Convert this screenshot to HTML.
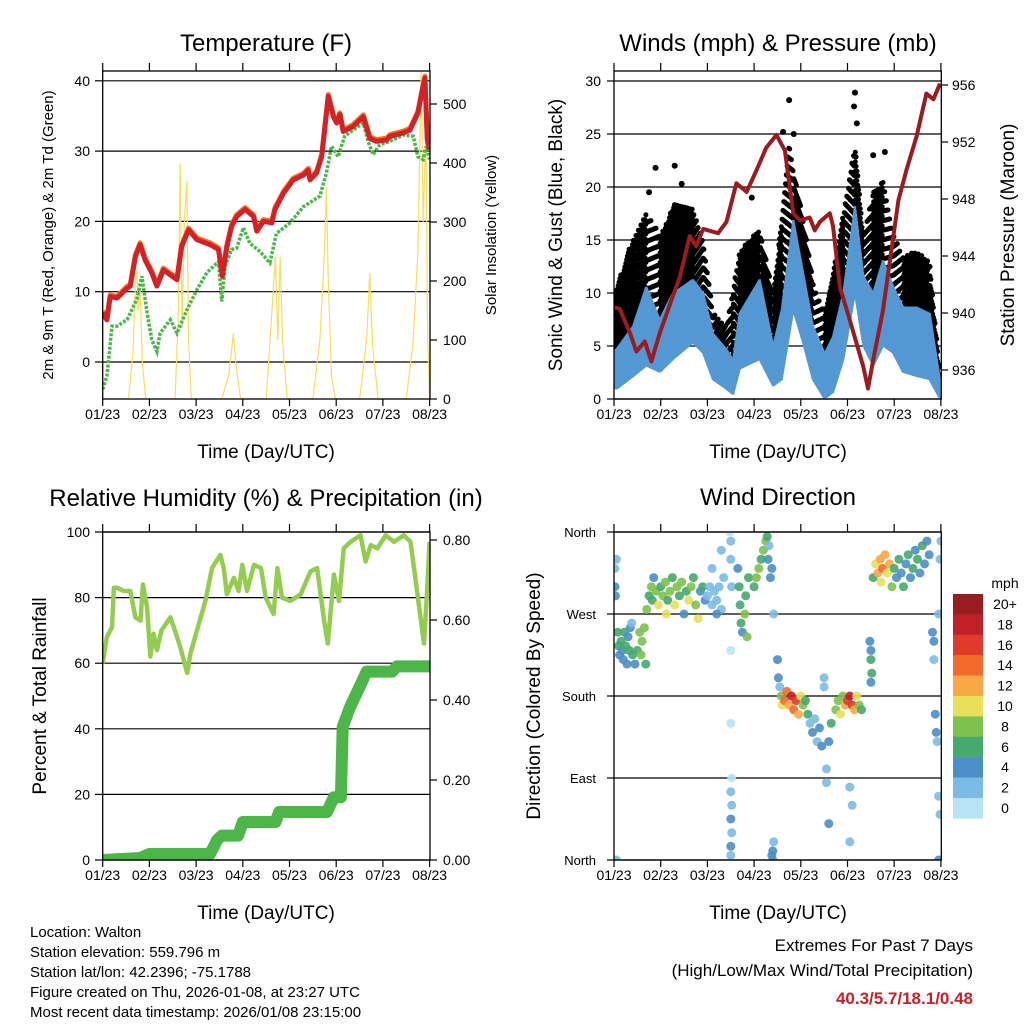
<!DOCTYPE html>
<html><head><meta charset="utf-8"><style>
body{margin:0;background:#fff}
svg{display:block;font-family:"Liberation Sans",sans-serif}
</style></head><body>
<svg id="chart" width="1024" height="1024" viewBox="0 0 1024 1024" xmlns="http://www.w3.org/2000/svg">
<defs>
<clipPath id="c1"><rect x="102.7" y="71" width="327.3" height="328"/></clipPath>
<clipPath id="c2"><rect x="614" y="71" width="327.3" height="328"/></clipPath>
<clipPath id="c3"><rect x="102.7" y="532" width="327.3" height="328"/></clipPath>
<clipPath id="c4"><rect x="614" y="532" width="327.3" height="328"/></clipPath>
</defs>
<g font-size="24" text-anchor="middle" fill="#000">
<text x="266" y="51">Temperature (F)</text>
<text x="778" y="51">Winds (mph) &amp; Pressure (mb)</text>
<text x="266" y="506">Relative Humidity (%) &amp; Precipitation (in)</text>
<text x="778" y="505">Wind Direction</text>
</g>
<g font-size="19" text-anchor="middle">
<text x="266" y="458">Time (Day/UTC)</text>
<text x="778" y="458">Time (Day/UTC)</text>
<text x="266" y="919">Time (Day/UTC)</text>
<text x="778" y="919">Time (Day/UTC)</text>
<text transform="translate(53,235) rotate(-90)" font-size="15">2m &amp; 9m T (Red, Orange) &amp; 2m Td (Green)</text>
<text transform="translate(496,235) rotate(-90)" font-size="15">Solar Insolation (Yellow)</text>
<text transform="translate(562,235) rotate(-90)">Sonic Wind &amp; Gust (Blue, Black)</text>
<text transform="translate(1014,235) rotate(-90)">Station Pressure (Maroon)</text>
<text transform="translate(46,696) rotate(-90)">Percent &amp; Total Rainfall</text>
<text transform="translate(540,696) rotate(-90)">Direction (Colored By Speed)</text>
</g>
<g font-size="15">
<text x="30" y="937">Location: Walton</text>
<text x="30" y="957">Station elevation: 559.796 m</text>
<text x="30" y="977">Station lat/lon: 42.2396; -75.1788</text>
<text x="30" y="997">Figure created on Thu, 2026-01-08, at 23:27 UTC</text>
<text x="30" y="1017">Most recent data timestamp: 2026/01/08 23:15:00</text>
</g>
<g font-size="17" text-anchor="end">
<text x="973" y="951">Extremes For Past 7 Days</text>
<text x="973" y="976">(High/Low/Max Wind/Total Precipitation)</text>
<text x="973" y="1004" font-weight="bold" fill="#c8202a">40.3/5.7/18.1/0.48</text>
</g>
<g id="layer"></g>
</svg>
<script>
// ---------- data ----------
const xTickLabels = ["01/23","02/23","03/23","04/23","05/23","06/23","07/23","08/23"];
const tempT = [0,0.09,0.16,0.31,0.52,0.59,0.70,0.80,0.91,1.05,1.16,1.30,1.59,1.69,1.84,2.02,2.30,2.48,2.56,2.66,2.76,2.87,3.05,3.23,3.30,3.44,3.62,3.69,3.87,4.08,4.30,4.40,4.44,4.58,4.69,4.76,4.83,4.94,5.01,5.08,5.15,5.36,5.58,5.72,5.86,6.08,6.15,6.44,6.58,6.75,6.86,6.90,6.95,7.0];
const tempV = [7.0,6.0,9.3,9.1,10.5,10.8,15.0,16.7,14.5,12.7,10.8,13.1,11.7,16.4,18.8,17.4,16.7,16.0,12.2,16.4,19.3,20.7,21.7,20.7,18.6,20.0,19.8,21.7,24.0,25.9,26.6,27.3,25.9,26.9,29.2,33.5,37.8,34.9,34.0,35.2,32.8,33.5,34.9,31.8,31.4,31.6,32.1,32.6,33.0,35.4,39.2,40.4,31.6,30.2];
const dewT = [0,0.09,0.20,0.31,0.52,0.73,0.84,0.95,1.05,1.16,1.23,1.45,1.59,1.80,2.02,2.23,2.48,2.55,2.62,2.76,2.87,3.01,3.15,3.37,3.58,3.72,4.01,4.30,4.65,4.79,4.90,5.04,5.18,5.36,5.58,5.68,5.79,5.93,6.15,6.44,6.65,6.75,6.86,6.93,7.0];
const dewV = [-3.9,-2.0,5.1,5.1,6.0,8.9,12.2,7.0,3.2,1.5,4.1,6.0,4.1,7.4,10.3,12.7,14.3,8.6,13.6,16.0,16.2,19.1,16.9,15.7,14.1,18.3,19.8,22.1,23.6,26.9,30.7,29.2,32.1,33.0,34.0,31.4,29.5,30.9,31.4,32.3,32.1,29.2,28.8,30.7,28.8];
const solarT = [0,0.55,0.65,0.70,0.73,0.76,0.80,0.85,0.92,1.55,1.62,1.66,1.70,1.75,1.80,1.84,1.90,2.55,2.70,2.80,2.85,2.95,3.50,3.60,3.70,3.75,3.80,3.85,3.95,4.50,4.65,4.75,4.79,4.83,4.90,4.98,5.50,5.65,5.72,5.78,5.90,6.50,6.65,6.75,6.82,6.86,6.92,6.96,7.0];
const solarV = [0,0,80,200,218,150,190,60,0,0,150,399,120,300,370,100,0,0,40,111,60,0,0,120,241,100,241,100,0,0,100,250,359,200,40,0,0,100,213,90,0,0,100,250,560,300,450,100,0];
const presT = [0,0.12,0.34,0.48,0.66,0.80,0.98,1.23,1.41,1.62,1.76,1.91,2.23,2.41,2.62,2.84,3.05,3.26,3.48,3.66,3.84,3.98,4.19,4.30,4.41,4.62,4.69,4.84,5.05,5.34,5.44,5.55,5.76,5.91,6.09,6.26,6.48,6.69,6.84,6.98];
const presV = [940.4,940.3,938.6,937.3,938.0,936.6,938.6,940.9,942.5,945.4,944.7,945.9,945.6,946.4,949.1,948.5,950.0,951.6,952.5,951.4,947.0,946.5,946.7,945.8,946.4,947.0,946.1,941.8,939.5,936.2,934.7,936.7,940.2,943.7,947.9,950.0,952.4,955.4,955.0,956.1];
const windT = [0.05,0.41,0.69,0.98,1.26,1.69,1.91,2.12,2.41,2.55,2.69,3.12,3.41,3.59,3.84,4.05,4.26,4.51,4.69,4.91,5.16,5.34,5.55,5.76,5.98,6.19,6.48,6.76,6.98];
const windHi = [4.7,6.9,10.6,7.5,10.0,11.3,10.0,6.2,4.7,3.7,8.1,11.3,5.0,8.4,16.9,11.9,6.9,4.3,5.9,10.0,18.2,11.6,10.0,13.1,10.6,8.7,8.7,8.1,1.8];
const windLo = [0.9,2.1,3.1,2.5,3.7,5.3,4.3,1.8,0.9,0.4,2.8,3.7,1.2,1.8,8.4,5.3,1.8,0,0.6,3.7,10.0,5.0,3.1,5.0,4.3,2.5,2.1,1.8,0];
const gustT = [0.05,0.30,0.69,1.00,1.30,1.69,1.91,2.12,2.41,2.69,3.12,3.41,3.59,3.75,4.05,4.30,4.51,4.76,5.16,5.34,5.55,5.76,5.98,6.19,6.48,6.76,6.98];
const gustHi = [10.3,14.1,17.5,15.5,18.5,18.0,15.0,8.1,6.9,14.0,16.0,10.0,17.0,24.0,17.0,10.3,8.1,13.5,24.0,15.5,19.5,20.5,15.5,13.5,14.0,13.0,2.5];
const gustOutT = [0.89,1.30,3.75,3.62,5.16,5.14,5.55,5.80,0.75,1.45,2.95,3.85,5.20];
const gustOutV = [21.8,22.0,28.2,25.2,28.9,27.6,23.0,23.3,19.5,20.3,19.0,25.0,26.0];
const rhT = [0,0.09,0.2,0.24,0.31,0.45,0.59,0.7,0.81,0.86,0.95,1.02,1.09,1.16,1.26,1.45,1.52,1.66,1.81,1.88,2.02,2.2,2.34,2.52,2.59,2.66,2.81,2.91,2.99,3.09,3.24,3.39,3.49,3.66,3.74,3.84,4.02,4.24,4.45,4.59,4.74,4.82,4.95,5.06,5.16,5.31,5.52,5.63,5.74,5.88,6.06,6.24,6.45,6.59,6.74,6.88,6.95,7.0];
const rhV = [60,68,71,83,83,82,82,74,73,84,77,62,69,64,70,74,71,65,57,63,70,79,89,93,89,81,86,82,90,82,90,89,80,75,89,80,79,81,88,89,73,66,87,79,95,97,99,91,96,95,99,97,99,97,81,66,83,97];
const prT = [0,0.8,1.0,2.3,2.45,2.55,2.9,3.0,3.7,3.78,4.8,4.95,5.1,5.14,5.3,5.5,5.65,6.2,6.3,7.0];
const prV = [0,0.005,0.015,0.015,0.05,0.061,0.061,0.095,0.095,0.12,0.12,0.157,0.157,0.333,0.383,0.433,0.471,0.471,0.484,0.484];
const dirT = [0.02,0.02,0.03,0.05,0.08,0.1,0.12,0.15,0.18,0.2,0.22,0.25,0.28,0.3,0.33,0.35,0.38,0.4,0.45,0.5,0.55,0.58,0.6,0.65,0.68,
0.7,0.75,0.8,0.82,0.85,0.9,0.95,1.0,1.05,1.1,1.12,1.15,1.2,1.25,1.3,1.35,1.4,1.45,1.5,1.55,1.6,1.65,1.7,1.75,1.8,1.85,1.9,1.95,
2.0,2.05,2.1,2.15,2.2,2.25,2.3,2.35,2.1,2.3,2.2,
2.48,2.5,2.5,2.52,2.5,2.5,2.52,2.5,2.52,2.5,2.52,2.5,2.5,
2.65,2.68,2.7,2.72,2.75,2.8,2.82,2.85,2.88,
3.0,3.05,3.1,3.15,3.2,3.25,3.28,3.3,3.32,3.35,3.38,3.42,3.38,3.4,3.42,3.4,
3.5,3.52,3.55,3.58,3.6,3.65,3.7,3.75,3.8,3.85,3.9,3.95,4.0,4.05,4.1,4.15,
4.2,4.25,4.3,4.35,4.4,4.45,4.5,4.5,4.55,4.6,4.6,4.65,
4.75,4.8,4.85,4.9,4.95,5.0,5.05,5.1,5.15,5.2,5.25,5.3,
5.48,5.5,5.5,5.52,5.5,
5.55,5.6,5.65,5.7,5.72,5.75,5.8,5.85,5.9,5.95,
6.0,6.05,6.1,6.15,6.2,6.25,6.3,6.35,6.4,6.45,6.5,6.55,6.6,6.65,6.7,6.75,
6.82,6.85,6.85,6.88,6.9,6.92,6.95,6.98,6.98,6.95,7.0,6.95,5.05,5.1,5.05,4.55,0.05];
const dirD = [300,320,290,330,250,235,225,240,230,220,250,235,215,245,230,255,260,225,215,230,250,225,240,255,215,
275,290,300,285,310,295,280,300,290,305,270,285,295,310,280,300,290,305,270,295,285,300,310,280,265,295,300,285,
290,300,280,295,285,300,275,310,320,340,270,
360,350,330,300,230,150,90,75,60,45,30,15,5,
320,300,280,260,250,270,290,245,310,
300,310,320,330,340,350,355,330,345,310,320,270,5,10,20,0,
220,200,190,180,170,175,185,170,180,165,175,160,180,170,175,160,
150,140,155,130,145,125,190,200,100,40,130,150,
165,175,160,180,170,175,180,170,165,180,170,165,
240,230,220,205,195,
310,325,315,330,305,320,335,315,325,300,
320,310,330,315,300,325,335,310,320,340,330,315,345,325,350,335,
250,240,220,160,140,130,70,50,330,270,350,0,80,60,20,85,0];
const dirS = [4,2,4,2,6,6,4,6,4,4,6,6,4,4,6,4,2,6,4,6,8,8,8,8,6,
8,6,8,6,4,8,10,6,8,8,10,6,8,6,10,8,6,8,4,6,10,8,6,8,10,4,6,4,
2,2,2,2,2,2,2,2,2,2,4,
0,2,2,2,0,0,0,2,2,4,2,4,2,
4,6,6,6,4,8,6,8,6,
6,8,8,6,8,8,6,4,2,4,4,2,4,4,2,4,
4,4,2,8,10,14,14,12,18,14,16,12,10,8,6,6,
2,4,2,2,4,4,2,2,2,4,4,6,
8,8,10,8,12,16,18,16,12,10,8,6,
4,4,6,6,4,
6,10,12,12,10,14,12,10,12,8,
6,4,6,4,6,4,6,4,6,4,6,4,6,4,4,4,
4,4,2,4,4,2,2,2,2,2,2,4,2,2,2,2,2];
const cbLabels = ["20+","18","16","14","12","10","8","6","4","2","0"];
const cbColors = ["#9b1c1f","#c0202a","#e03a2c","#f26a2c","#f8a945","#e8e05a","#7dc24c","#46a96e","#4a8fc8","#7cbbe6","#b9e2f6"];
const p1LeftTicks = [0,10,20,30,40];
const p1RightTicks = [0,100,200,300,400,500];
const p2LeftTicks = [0,5,10,15,20,25,30];
const p2RightTicks = [936,940,944,948,952,956];
const p3LeftTicks = [0,20,40,60,80,100];
const p3RightTicks = [0,0.2,0.4,0.6,0.8];
const dirTicks = [0,90,180,270,360];
const dirLabels = ["North","East","South","West","North"];

// ---------- scales ----------
const xA = d => 102.7 + d*46.7;
const xB = d => 614 + d*46.7;
const yT = t => 362 - t*7.03;
const ySol = v => 399 - v*0.59;
const yW = w => 399 - w*10.6;
const yP = p => 85 + (956-p)*14.25;
const yRH = r => 860 - r*3.28;
const yPr = p => 860 - p*400;
const yDir = d => 860 - d*(328/360);

const NS = "http://www.w3.org/2000/svg";
const layer = document.getElementById("layer");
function mk(tag, parent){const e=document.createElementNS(NS,tag);(parent||layer).appendChild(e);return e;}
function grp(clip){const g=mk("g");if(clip)g.setAttribute("clip-path","url(#"+clip+")");return g;}
function pathOf(T,V,fx,fy){return T.map((t,i)=>(i?"L":"M")+fx(t).toFixed(1)+","+fy(V[i]).toFixed(1)).join("");}
function interp(T,V,t){if(t<=T[0])return V[0];for(let i=1;i<T.length;i++){if(t<=T[i]){const f=(t-T[i-1])/(T[i]-T[i-1]);return V[i-1]+f*(V[i]-V[i-1]);}}return V[V.length-1];}

// ---------- frames, grids, ticks ----------
function frame(x0,y0,name){
  const r=mk("rect");r.setAttribute("x",x0);r.setAttribute("y",y0);r.setAttribute("width",327.3);r.setAttribute("height",328);
  r.setAttribute("fill","none");r.setAttribute("stroke","#000");r.setAttribute("stroke-width","1.3");
  
  
}
function hline(x0,y,name){const l=mk("line");l.setAttribute("x1",x0);l.setAttribute("x2",x0+327.3);l.setAttribute("y1",y);l.setAttribute("y2",y);l.setAttribute("stroke","#000");l.setAttribute("stroke-width","1.2");
  
  }
function tick(x1,y1,x2,y2){const l=mk("line");l.setAttribute("x1",x1);l.setAttribute("y1",y1);l.setAttribute("x2",x2);l.setAttribute("y2",y2);l.setAttribute("stroke","#000");l.setAttribute("stroke-width","1.2");
  
  }
function label(x,y,s,anchor,size,name){const t=mk("text");t.setAttribute("x",x);t.setAttribute("y",y);t.setAttribute("text-anchor",anchor);t.setAttribute("font-size",size);t.textContent=s;
  
  }
function xAxis(fx,yb,pre){
  xTickLabels.forEach((s,i)=>{const x=fx(i);tick(x,yb,x,yb+7);tick(x,yb-328,x,yb-336);label(x,yb+20,s,"middle",14,pre+"-x-tick-label");});
}

// Panel 1
p1LeftTicks.forEach(v=>{hline(102.7,yT(v),"p1-gridline");tick(102.7,yT(v),95,yT(v));label(90,yT(v)+5,String(v),"end",14,"p1-y-tick-label");});
p1RightTicks.forEach(v=>{tick(430,ySol(v),437,ySol(v));label(443,ySol(v)+5,String(v),"start",14,"p1-y2-tick-label");});
xAxis(xA,399,"p1");
// Panel 2
p2LeftTicks.forEach(v=>{hline(614,yW(v),"p2-gridline");tick(614,yW(v),607,yW(v));label(601,yW(v)+5,String(v),"end",14,"p2-y-tick-label");});
p2RightTicks.forEach(v=>{tick(941.3,yP(v),948,yP(v));label(952,yP(v)+5,String(v),"start",14,"p2-y2-tick-label");});
xAxis(xB,399,"p2");
// Panel 3
p3LeftTicks.forEach(v=>{hline(102.7,yRH(v),"p3-gridline");tick(102.7,yRH(v),95,yRH(v));label(90,yRH(v)+5,String(v),"end",14,"p3-y-tick-label");});
p3RightTicks.forEach(v=>{tick(430,yPr(v),437,yPr(v));label(443,yPr(v)+5,v.toFixed(2),"start",14,"p3-y2-tick-label");});
xAxis(xA,860,"p3");
// Panel 4
dirTicks.forEach((v,i)=>{hline(614,yDir(v),"p4-gridline");tick(614,yDir(v),607,yDir(v));label(596,yDir(v)+5,dirLabels[i],"end",13,"p4-y-tick-label");});
xAxis(xB,860,"p4");

// ---------- panel 1 marks ----------
let g=grp("c1");
let e=mk("path",g);e.setAttribute("d",pathOf(solarT,solarV,xA,ySol));e.setAttribute("fill","none");e.setAttribute("stroke","#f7de5a");e.setAttribute("stroke-width","1.2");


e=mk("path",g);e.setAttribute("d",pathOf(dewT,dewV,xA,yT));e.setAttribute("fill","none");e.setAttribute("stroke","#4cb648");e.setAttribute("stroke-width","3.5");e.setAttribute("stroke-dasharray","3 1.5");


e=mk("path",g);e.setAttribute("d",pathOf(tempT,tempV.map(v=>v+0.25),xA,yT));e.setAttribute("fill","none");e.setAttribute("stroke","#f27a2a");e.setAttribute("stroke-width","5");e.setAttribute("stroke-linejoin","round");


e=mk("path",g);e.setAttribute("d",pathOf(tempT,tempV,xA,yT));e.setAttribute("fill","none");e.setAttribute("stroke","#d42027");e.setAttribute("stroke-width","5");e.setAttribute("stroke-linejoin","round");



// ---------- panel 2 marks ----------
g=grp("c2");
let k=0;
for(let t=0;t<=7.0001;t+=0.018){
  const hi=interp(gustT,gustHi,t), lo=interp(windT,windHi,t)-1.0;
  k++;
  const off=(k%4)*0.22;
  for(let w=lo+off; w<=hi; w+=0.9){
    const c=mk("circle",g);c.setAttribute("cx",xB(t).toFixed(1));c.setAttribute("cy",yW(w).toFixed(1));c.setAttribute("r",2.5);c.setAttribute("fill","#000");
    
    
  }
}
gustOutT.forEach((t,i)=>{const c=mk("circle",g);c.setAttribute("cx",xB(t));c.setAttribute("cy",yW(gustOutV[i]));c.setAttribute("r",3);c.setAttribute("fill","#000");
  
  });
for(let t=0;t<=7.0001;t+=0.01){
  const hi=interp(windT,windHi,t), lo=interp(windT,windLo,t);
  const l=mk("line",g);l.setAttribute("x1",xB(t));l.setAttribute("x2",xB(t));l.setAttribute("y1",yW(lo));l.setAttribute("y2",yW(hi));
  l.setAttribute("stroke","#5499d3");l.setAttribute("stroke-width","2.5");
  
  
}
e=mk("path",g);e.setAttribute("d",pathOf(presT,presV,xB,yP));e.setAttribute("fill","none");e.setAttribute("stroke","#9b1b1e");e.setAttribute("stroke-width","4");e.setAttribute("stroke-linejoin","round");



// ---------- panel 3 marks ----------
g=grp("c3");
e=mk("path",g);e.setAttribute("d",pathOf(rhT,rhV,xA,yRH));e.setAttribute("fill","none");e.setAttribute("stroke","#94cc50");e.setAttribute("stroke-width","4.5");e.setAttribute("stroke-linejoin","round");


e=mk("path",g);e.setAttribute("d",pathOf(prT,prV,xA,yPr));e.setAttribute("fill","none");e.setAttribute("stroke","#4cb648");e.setAttribute("stroke-width","12");e.setAttribute("stroke-linejoin","round");e.setAttribute("stroke-linecap","round");



// ---------- panel 4 marks ----------
g=grp("c4");
function spdColor(s){let i=Math.min(10,Math.floor(s/2));return cbColors[10-i];}
dirT.forEach((t,i)=>{const c=mk("circle",g);c.setAttribute("cx",xB(t).toFixed(1));c.setAttribute("cy",yDir(dirD[i]).toFixed(1));c.setAttribute("r",4.5);c.setAttribute("fill",spdColor(dirS[i]));c.setAttribute("fill-opacity","0.9");
  
  });

// frames last
frame(102.7,71,"p1-plot-frame");frame(614,71,"p2-plot-frame");frame(102.7,532,"p3-plot-frame");frame(614,532,"p4-plot-frame");

// colorbar
label(1005,588,"mph","middle",14,"colorbar-title");
cbColors.forEach((c,i)=>{const r=mk("rect");r.setAttribute("x",953);r.setAttribute("y",594+i*20.4);r.setAttribute("width",30);r.setAttribute("height",20.6);r.setAttribute("fill",c);
  
  
  label(1005,609+i*20.4,cbLabels[i],"middle",14,"colorbar-label");});
</script>
</body></html>
